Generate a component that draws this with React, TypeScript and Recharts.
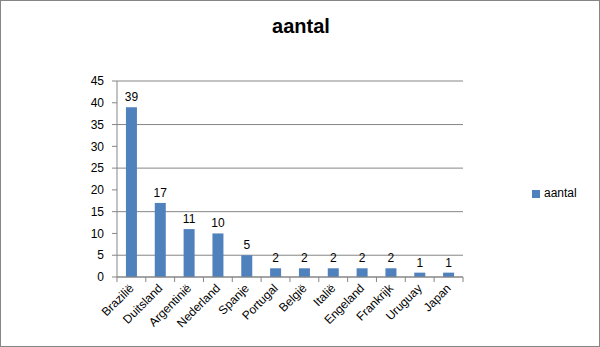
import { BarChart, Bar, XAxis, YAxis, CartesianGrid, Legend, LabelList } from 'recharts';

const countries = ['Brazilië', 'Duitsland', 'Argentinië', 'Nederland', 'Spanje', 'Portugal', 'België', 'Italië', 'Engeland', 'Frankrijk', 'Uruguay', 'Japan'];
const aantal = [39, 17, 11, 10, 5, 2, 2, 2, 2, 2, 1, 1];
const yTicks = [0, 5, 10, 15, 20, 25, 30, 35, 40, 45];

const data = countries.map((land, i) => ({ land, aantal: aantal[i] }));

const W = 600;
const H = 347;
const PLOT_LEFT = 117;
const PLOT_RIGHT = 464;
const LEGEND_W = 70;
const BAND = (PLOT_RIGHT - PLOT_LEFT) / countries.length;
const FONT = '"Liberation Sans", Arial, sans-serif';
const AXIS = '#868686';

function CountryTick(props: any) {
  const { x, y, payload, index } = props;
  return (
    <g>
      <line x1={x - BAND / 2} y1={y - 8} x2={x - BAND / 2} y2={y - 3} stroke={AXIS} />
      {index === countries.length - 1 && (
        <line x1={x + BAND / 2} y1={y - 8} x2={x + BAND / 2} y2={y - 3} stroke={AXIS} />
      )}
      <text
        x={x + 3}
        y={y + 4}
        textAnchor="end"
        fontSize={12}
        fontFamily={FONT}
        fill="#000"
        transform={`rotate(-45, ${x + 3}, ${y + 4})`}
      >
        {payload.value}
      </text>
    </g>
  );
}

export default function App() {
  return (
    <div
      style={{
        position: 'absolute',
        left: 0,
        top: 0,
        width: W,
        height: H,
        boxSizing: 'border-box',
        border: `1px solid ${AXIS}`,
        background: '#fff',
        fontFamily: FONT,
      }}
    >
      <div
        style={{
          position: 'absolute',
          left: 0,
          top: 14,
          width: W,
          textAlign: 'center',
          fontSize: 20,
          fontWeight: 'bold',
          color: '#000',
        }}
      >
        aantal
      </div>
      <div style={{ position: 'absolute', left: -1, top: -1 }}>
        <BarChart
          width={W}
          height={H}
          data={data}
          margin={{ top: 81, right: W - PLOT_RIGHT - LEGEND_W + 1, bottom: 0, left: 0 }}
          barCategoryGap="31%"
        >
          <CartesianGrid horizontal vertical={false} stroke={AXIS} />
          <XAxis
            dataKey="land"
            interval={0}
            tickLine={false}
            axisLine={{ stroke: AXIS }}
            tick={<CountryTick />}
            height={70}
          />
          <YAxis
            domain={[0, 45]}
            ticks={yTicks}
            width={PLOT_LEFT}
            tickSize={5}
            tickMargin={8}
            axisLine={{ stroke: AXIS }}
            tickLine={{ stroke: AXIS }}
            tick={{ fill: '#000', fontSize: 12, fontFamily: FONT }}
          />
          <Legend
            layout="vertical"
            align="right"
            verticalAlign="middle"
            iconType="square"
            iconSize={8}
            wrapperStyle={{ position: 'absolute', left: 532, top: 186, width: LEGEND_W, fontSize: 12 }}
            formatter={(v: string) => <span style={{ color: '#000' }}>{v}</span>}
          />
          <Bar dataKey="aantal" fill="#4F81BD" isAnimationActive={false}>
            <LabelList dataKey="aantal" position="top" offset={6} fill="#000" fontSize={12} fontFamily={FONT} />
          </Bar>
        </BarChart>
      </div>
    </div>
  );
}
